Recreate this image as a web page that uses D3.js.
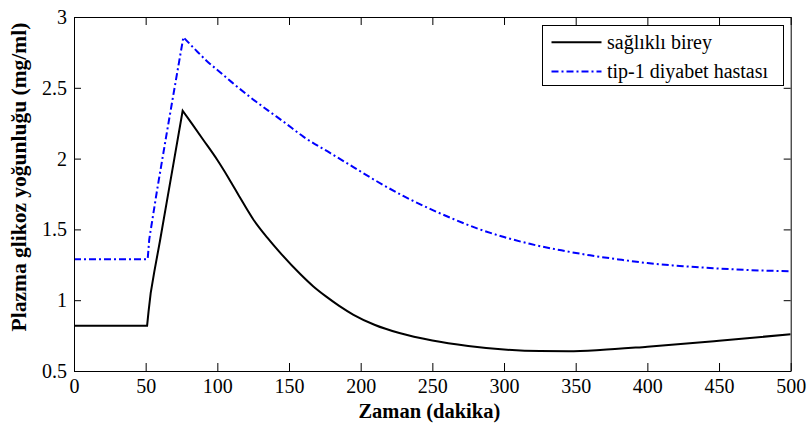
<!DOCTYPE html>
<html>
<head>
<meta charset="utf-8">
<script src="https://cdn.jsdelivr.net/npm/d3@7"></script>
<style>
  html, body { margin: 0; padding: 0; background: #fff; }
  svg { display: block; }
</style>
</head>
<body>
<svg id="chart" width="809" height="428"></svg>
<script>
// Plasma glucose concentration over time (minutes)
const healthyTime = [0, 51, 52, 53.5, 56, 60, 65, 70, 75.8, 82, 90, 100, 108, 115.8, 125, 135, 145, 158, 167, 176, 185, 195, 210, 227, 250, 275, 300, 325, 345, 367, 400, 450, 500];
const healthyValue = [0.82, 0.82, 0.92, 1.05, 1.2, 1.42, 1.71, 2.0, 2.338, 2.25, 2.135, 1.99, 1.86, 1.725, 1.572, 1.44, 1.322, 1.183, 1.097, 1.025, 0.96, 0.897, 0.825, 0.768, 0.715, 0.677, 0.652, 0.641, 0.64, 0.648, 0.672, 0.714, 0.759];

const diabeticTime = [0, 51.4, 52.5, 58, 64.2, 69.3, 76.3, 85, 92.6, 101.9, 110, 122.8, 136.7, 146, 160, 178.6, 194.9, 211.2, 230, 248.4, 265, 283.2, 300, 318, 340, 360, 380, 400, 425, 446, 470, 500];
const diabeticValue = [1.29, 1.29, 1.43, 1.78, 2.15, 2.45, 2.857, 2.766, 2.69, 2.61, 2.54, 2.435, 2.33, 2.262, 2.155, 2.04, 1.94, 1.84, 1.735, 1.645, 1.572, 1.5, 1.446, 1.398, 1.352, 1.317, 1.288, 1.262, 1.24, 1.226, 1.213, 1.205];

const seriesNames = ["sağlıklı birey", "tip-1 diyabet hastası"];
const xTicks = [0, 50, 100, 150, 200, 250, 300, 350, 400, 450, 500];
const yTicks = [0.5, 1, 1.5, 2, 2.5, 3];
const yTickLabels = ["0.5", "1", "1.5", "2", "2.5", "3"];
const xTitle = "Zaman (dakika)";
const yTitle = "Plazma glikoz yoğunluğu (mg/ml)";

const FONT = '"Liberation Serif"';

const svg = d3.select("#chart");
const margin = { left: 74, top: 17, right: 18.3, bottom: 57 };
const W = 809, H = 428;
const plotW = W - margin.left - margin.right;
const plotH = H - margin.top - margin.bottom;

const x = d3.scaleLinear().domain([0, 500]).range([0, plotW]);
const y = d3.scaleLinear().domain([0.5, 3]).range([plotH, 0]);

const g = svg.append("g").attr("transform", `translate(${margin.left},${margin.top})`);

g.append("clipPath").attr("id", "plotClip")
  .append("rect").attr("width", plotW).attr("height", plotH);

// Each curve: straight segments up to the peak, smooth decay after it
const riseLine = d3.line().x(d => x(d[0])).y(d => y(d[1]));
const decayLine = d3.line().x(d => x(d[0])).y(d => y(d[1])).curve(d3.curveMonotoneX);

function curvePath(times, values) {
  const pts = times.map((t, i) => [t, values[i]]);
  const peak = d3.maxIndex(values);
  const rise = riseLine(pts.slice(0, peak + 1));
  const decay = decayLine(pts.slice(peak));
  return rise + "L" + decay.slice(1);
}

const curves = g.append("g").attr("clip-path", "url(#plotClip)");
curves.append("path")
  .attr("d", curvePath(healthyTime, healthyValue)).attr("fill", "none")
  .attr("stroke", "#000").attr("stroke-width", 2)
  .attr("stroke-linejoin", "miter");
curves.append("path")
  .attr("d", curvePath(diabeticTime, diabeticValue)).attr("fill", "none")
  .attr("stroke", "#0000ff").attr("stroke-width", 2)
  .attr("stroke-dasharray", "7,3,2,3");

// Axes: box with inward ticks on all four sides
const tickLen = 8;
const axisFont = 20;

const xAxis = g.append("g").attr("transform", `translate(0,${plotH})`)
  .call(d3.axisBottom(x).tickValues(xTicks).tickSizeInner(-tickLen).tickSizeOuter(0).tickPadding(8).tickFormat(d3.format("d")));
const xAxisTop = g.append("g")
  .call(d3.axisTop(x).tickValues(xTicks).tickSizeInner(-tickLen).tickSizeOuter(0).tickFormat(""));
const yAxis = g.append("g")
  .call(d3.axisLeft(y).tickValues(yTicks).tickSizeInner(-7).tickSizeOuter(0).tickPadding(7)
    .tickFormat((d, i) => yTickLabels[i]));
const yAxisRight = g.append("g").attr("transform", `translate(${plotW},0)`)
  .call(d3.axisRight(y).tickValues(yTicks).tickSizeInner(-7).tickSizeOuter(0).tickFormat(""));

[xAxis, xAxisTop, yAxis, yAxisRight].forEach(a => {
  a.attr("font-family", null).attr("font-size", null);
  a.selectAll("path.domain").attr("stroke", "#000").attr("stroke-width", 1);
  a.selectAll(".tick line").attr("stroke", "#000").attr("stroke-width", 1);
  a.selectAll("text")
    .style("font-family", FONT)
    .style("font-size", axisFont + "px")
    .attr("fill", "#000");
});

// Axis titles
svg.append("text")
  .attr("x", margin.left + plotW / 2 - 3)
  .attr("y", 418)
  .attr("text-anchor", "middle")
  .style("font-family", FONT)
  .style("font-size", "20.5px").style("font-weight", "bold")
  .attr("fill", "#000")
  .text(xTitle);

svg.append("text")
  .attr("transform", `translate(25.5,${177}) rotate(-90)`)
  .attr("text-anchor", "middle")
  .style("font-family", FONT)
  .style("font-size", "21.5px").style("font-weight", "bold")
  .attr("fill", "#000")
  .text(yTitle);

// Legend
const legend = svg.append("g");
legend.append("rect")
  .attr("x", 542.5).attr("y", 25.5).attr("width", 241).attr("height", 60)
  .attr("fill", "#fff").attr("stroke", "#000").attr("stroke-width", 1);

const legendItems = [
  { name: seriesNames[0], color: "#000", dash: null, yPos: 42.3 },
  { name: seriesNames[1], color: "#0000ff", dash: "7,3,2,3", yPos: 71.5 }
];
legendItems.forEach(item => {
  const l = legend.append("line")
    .attr("x1", 551.5).attr("x2", 601.5)
    .attr("y1", item.yPos).attr("y2", item.yPos)
    .attr("stroke", item.color).attr("stroke-width", 2);
  if (item.dash) l.attr("stroke-dasharray", item.dash);
  legend.append("text")
    .attr("x", 607).attr("y", item.yPos)
    .attr("dy", "0.32em")
    .style("font-family", FONT)
    .style("font-size", "20px")
    .attr("fill", "#000")
    .text(item.name);
});
</script>
</body>
</html>
